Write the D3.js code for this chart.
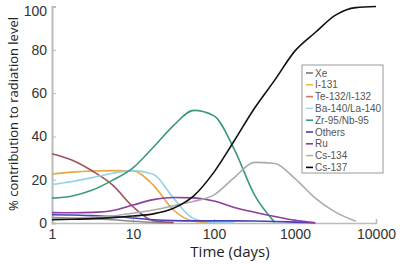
<!DOCTYPE html>
<html>
<head>
<meta charset="utf-8">
<script src="https://cdn.jsdelivr.net/npm/d3@7"></script>
<style>
  body { margin: 0; background: #fff; }
  svg { display: block; font-family: "Open Sans", sans-serif; }
</style>
</head>
<body>
<svg id="chart" width="400" height="264"></svg>
<script>
// time points (days), shared by every series
var days = [1, 1.78, 3.16, 5.62, 10, 17.8, 31.6, 56.2, 100, 178, 316, 562, 1000, 1778, 3162, 5623, 10000];

var names = ['Xe', 'I-131', 'Te-132/I-132', 'Ba-140/La-140', 'Zr-95/Nb-95', 'Others', 'Ru', 'Cs-134', 'Cs-137'];

// % contribution, null = curve has ended
var xe    = [2.5, 2.3, 2.0, 1.5, 0.8, 0.3, 0.1, null, null, null, null, null, null, null, null, null, null];
var i131  = [22.6, 23.5, 24.0, 24.2, 24.0, 17.5, 6.0, 0.8, 0.1, null, null, null, null, null, null, null, null];
var te132 = [32, 29, 24, 17.5, 7.5, 1.0, 0.2, null, null, null, null, null, null, null, null, null, null];
var ba140 = [17.8, 19.2, 21, 23, 24.2, 22.5, 11.5, 2.0, 0.3, 0, null, null, null, null, null, null, null];
var zr95  = [11.5, 12.5, 15.2, 19.8, 25.5, 35, 45, 52, 49.5, 34, 13, 0.3, null, null, null, null, null];
var others = [3.8, 3.7, 3.4, 3.0, 2.3, 1.5, 1.1, 1.0, 1.0, 1.0, 0.9, 0.7, 0.4, 0.1, null, null, null];
var ru    = [4.8, 4.7, 4.9, 5.8, 8.3, 10.8, 11.8, 11.6, 10.2, 7.2, 5.0, 3.0, 1.2, 0.1, null, null, null];
var cs134 = [2.0, 2.2, 2.6, 3.3, 4.5, 6, 8, 10, 13, 21, 28, 27.5, 20.5, 11.5, 5, 0.8, null];
var cs137 = [1.5, 1.7, 2.0, 2.5, 3.2, 4.2, 6.8, 12.5, 23.5, 38, 53, 66, 79.5, 88, 96, 99.5, 100];

var lineColors = ['#8a8a8a', '#e6a83a', '#a0525a', '#93d3e6', '#3a9a7c', '#4a3fb5', '#8c3d9e', '#ababab', '#111111'];
var keyColors  = ['#777777', '#e8c04a', '#c47a5e', '#9fd8ea', '#3d9a82', '#4b3fb0', '#8a3a9a', '#b5b5a0', '#000000'];

var xTicks = [1, 10, 100, 1000, 10000];
var yTicks = [0, 20, 40, 60, 80, 100];

var allSeries = [xe, i131, te132, ba140, zr95, others, ru, cs134, cs137];

var svg = d3.select('#chart');

var x = d3.scaleLog().domain([1, 10000]).range([52, 376]);
var y = d3.scaleLinear().domain([0, 100]).range([223, 6.5]);

// axes
var xAxis = svg.append('g')
    .attr('transform', 'translate(0,' + y(0) + ')')
    .call(d3.axisTop(x).tickValues(xTicks).tickSize(4).tickFormat(d3.format('d')));
xAxis.select('.domain').attr('stroke', '#bbb').attr('stroke-width', 1.5);
xAxis.selectAll('.tick line').attr('stroke', '#bbb');
xAxis.selectAll('.tick text')
    .attr('y', 6).attr('dy', '0.71em')
    .attr('fill', '#333').style('font-size', '14px');

var yAxis = svg.append('g')
    .attr('transform', 'translate(' + x(1) + ',0)')
    .call(d3.axisRight(y).tickValues(yTicks).tickSize(4));
yAxis.select('.domain').attr('stroke', '#bbb').attr('stroke-width', 2);
yAxis.selectAll('.tick line').attr('stroke', '#bbb');
yAxis.selectAll('.tick text')
    .attr('x', -5).attr('text-anchor', 'end')
    .attr('fill', '#333').style('font-size', '14px')
    .attr('dy', d => d == 100 ? '0.67em' : '0.32em');

// lines
var line = d3.line()
    .defined(d => d[1] != null)
    .x(d => x(d[0]))
    .y(d => y(d[1]))
    .curve(d3.curveMonotoneX);

svg.append('g')
    .attr('fill', 'none')
    .attr('stroke-width', 1.6)
    .selectAll('path')
    .data(allSeries)
    .join('path')
    .attr('stroke', (d, i) => lineColors[i])
    .attr('d', s => line(days.map((t, j) => [t, s[j]])));

// titles
svg.append('text')
    .attr('x', 230).attr('y', 257)
    .attr('text-anchor', 'middle')
    .attr('fill', '#222')
    .style('font-size', '15px')
    .text('Time (days)');

svg.append('text')
    .attr('transform', 'translate(18,114) rotate(-90)')
    .attr('text-anchor', 'middle')
    .attr('fill', '#222')
    .style('font-size', '13px')
    .text('% contribution to radiation level');

// legend
var legend = svg.append('g').attr('transform', 'translate(302,65)');
legend.append('rect')
    .attr('width', 81).attr('height', 108)
    .attr('fill', '#fff')
    .attr('stroke', '#999');

var item = legend.selectAll('g')
    .data(names)
    .join('g')
    .attr('transform', (d, i) => 'translate(0,' + (8 + i * 11.8) + ')');
item.append('line')
    .attr('x1', 4).attr('x2', 11)
    .attr('stroke', (d, i) => keyColors[i])
    .attr('stroke-width', 1.6);
item.append('text')
    .attr('x', 13).attr('dy', '0.35em')
    .attr('fill', '#555')
    .style('font-family', '"Liberation Sans", sans-serif')
    .style('font-size', '10px')
    .text(d => d);
</script>
</body>
</html>
